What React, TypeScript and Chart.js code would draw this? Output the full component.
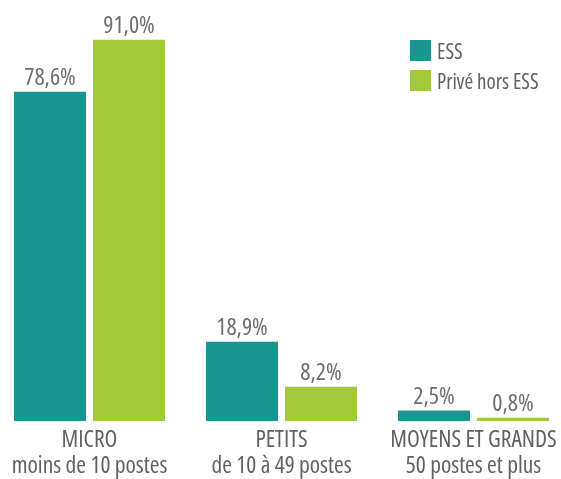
import React, { useEffect, useRef } from 'react';
import { Chart, registerables } from 'chart.js';

Chart.register(...registerables);

const categories: string[][] = [
  ['MICRO', 'moins de 10 postes'],
  ['PETITS', 'de 10 à 49 postes'],
  ['MOYENS ET GRANDS', '50 postes et plus'],
];
const seriesNames = ['ESS', 'Privé hors ESS'];
const essValues = [78.6, 18.9, 2.5];
const priveValues = [91.0, 8.2, 0.8];
const seriesColors = ['#1a9690', '#a3c83b'];

const FAMILY = "'Open Sans', 'Roboto Condensed', sans-serif";
const WEIGHT = '400 condensed';
const LABEL_COLOR = '#6d6e71';
const AXIS_COLOR = '#5f6163';

const fmt = (v: number) => v.toFixed(1).replace('.', ',') + '%';

const valueLabels = {
  id: 'valueLabels',
  afterDatasetsDraw(chart: any) {
    const ctx = chart.ctx;
    ctx.save();
    ctx.font = `${WEIGHT} 24px ${FAMILY}`;
    ctx.fillStyle = LABEL_COLOR;
    ctx.textAlign = 'center';
    ctx.textBaseline = 'alphabetic';
    chart.data.datasets.forEach((ds: any, i: number) => {
      const meta = chart.getDatasetMeta(i);
      meta.data.forEach((bar: any, j: number) => {
        ctx.fillText(fmt(ds.data[j]), bar.x, bar.y - 7);
      });
    });
    ctx.restore();
  },
};

const customLegend = {
  id: 'customLegend',
  afterDraw(chart: any) {
    const ctx = chart.ctx;
    ctx.save();
    ctx.font = `${WEIGHT} 21px ${FAMILY}`;
    ctx.textAlign = 'left';
    ctx.textBaseline = 'alphabetic';
    chart.data.datasets.forEach((ds: any, i: number) => {
      const x = 410;
      const y = 40 + i * 30;
      ctx.fillStyle = ds.backgroundColor;
      ctx.fillRect(x, y, 21, 21);
      ctx.fillStyle = AXIS_COLOR;
      ctx.fillText(ds.label, x + 27, y + 19);
    });
    ctx.restore();
  },
};

export default function App() {
  const ref = useRef<HTMLCanvasElement>(null);
  useEffect(() => {
    if (!ref.current) return;
    const chart = new Chart(ref.current, {
      type: 'bar',
      data: {
        labels: categories,
        datasets: [
          {
            label: seriesNames[0],
            data: essValues,
            backgroundColor: seriesColors[0],
            categoryPercentage: 0.823,
            barPercentage: 0.911,
            clip: false,
          } as any,
          {
            label: seriesNames[1],
            data: priveValues,
            backgroundColor: seriesColors[1],
            categoryPercentage: 0.823,
            barPercentage: 0.911,
            clip: false,
          } as any,
        ],
      },
      options: {
        animation: false,
        responsive: false,
        maintainAspectRatio: false,
        layout: { padding: { left: 89.5, right: 87.5, top: 2, bottom: -6 } },
        plugins: { legend: { display: false }, tooltip: { enabled: false } },
        scales: {
          x: {
            offset: false,
            grid: { display: false, drawTicks: false },
            border: { display: false },
            afterFit: (scale: any) => {
              scale.paddingLeft = 0;
              scale.paddingRight = 0;
            },
            ticks: {
              color: AXIS_COLOR,
              font: { family: FAMILY, weight: WEIGHT as any, size: 23.5, lineHeight: '26px' },
              padding: 6,
              maxRotation: 0,
              minRotation: 0,
              autoSkip: false,
            },
          },
          y: { display: false, min: 0, max: 100 },
        },
      },
      plugins: [valueLabels, customLegend],
    });
    return () => chart.destroy();
  }, []);
  return (
    <div style={{ position: 'fixed', left: 0, top: 0, width: 561, height: 479, background: '#fff' }}>
      <canvas ref={ref} width={561} height={479} style={{ width: 561, height: 479 }} />
    </div>
  );
}
